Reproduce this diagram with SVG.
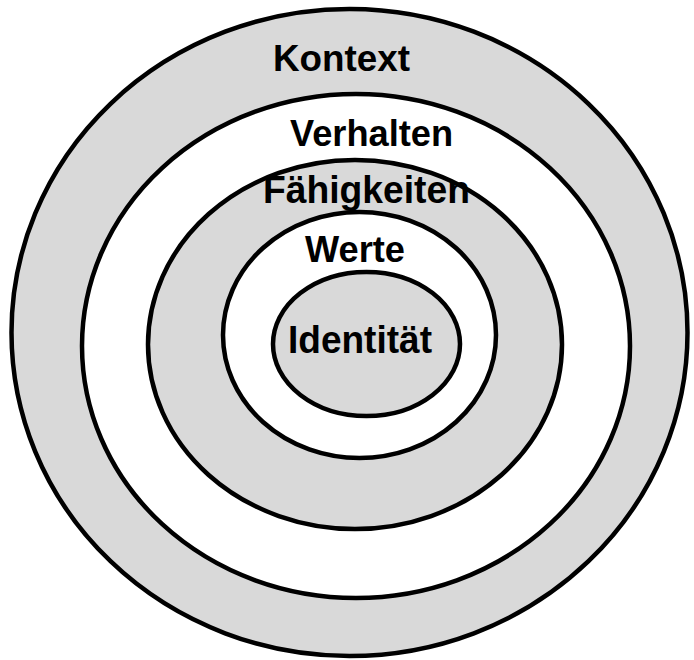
<svg xmlns="http://www.w3.org/2000/svg" width="694" height="660" viewBox="0 0 694 660">
<style>
.ring{stroke:#000;stroke-width:4.5}
.g{fill:#d9d9d9}
.w{fill:#fff}
.t{font-family:"Liberation Sans",Arial,sans-serif;font-weight:bold;font-size:36px;fill:#000}
.l{font-size:38px}
</style>
<rect width="694" height="660" fill="#fff"/>
<g id="kontext">
<ellipse class="ring g" cx="349.5" cy="332.5" rx="338" ry="323.5"/>
</g>
<g id="verhalten">
<ellipse class="ring w" cx="356" cy="346" rx="274" ry="252"/>
</g>
<g id="faehigkeiten">
<ellipse class="ring g" cx="355" cy="344.5" rx="207" ry="184.5"/>
</g>
<g id="werte">
<ellipse class="ring w" cx="359.5" cy="335" rx="136.5" ry="123"/>
</g>
<g id="identitaet">
<ellipse class="ring g" cx="366.5" cy="344" rx="93.5" ry="72"/>
</g>
<g id="labels">
<text class="t" x="273" y="71" textLength="137" lengthAdjust="spacingAndGlyphs">Kontext</text>
<text class="t" x="290" y="146" textLength="163" lengthAdjust="spacingAndGlyphs">Verhalten</text>
<text class="t l" x="263" y="203" textLength="207" lengthAdjust="spacingAndGlyphs">Fähigkeiten</text>
<text class="t" x="305" y="262" textLength="100" lengthAdjust="spacingAndGlyphs">Werte</text>
<text class="t l" x="288" y="353" textLength="144" lengthAdjust="spacingAndGlyphs">Identität</text>
</g>
</svg>
